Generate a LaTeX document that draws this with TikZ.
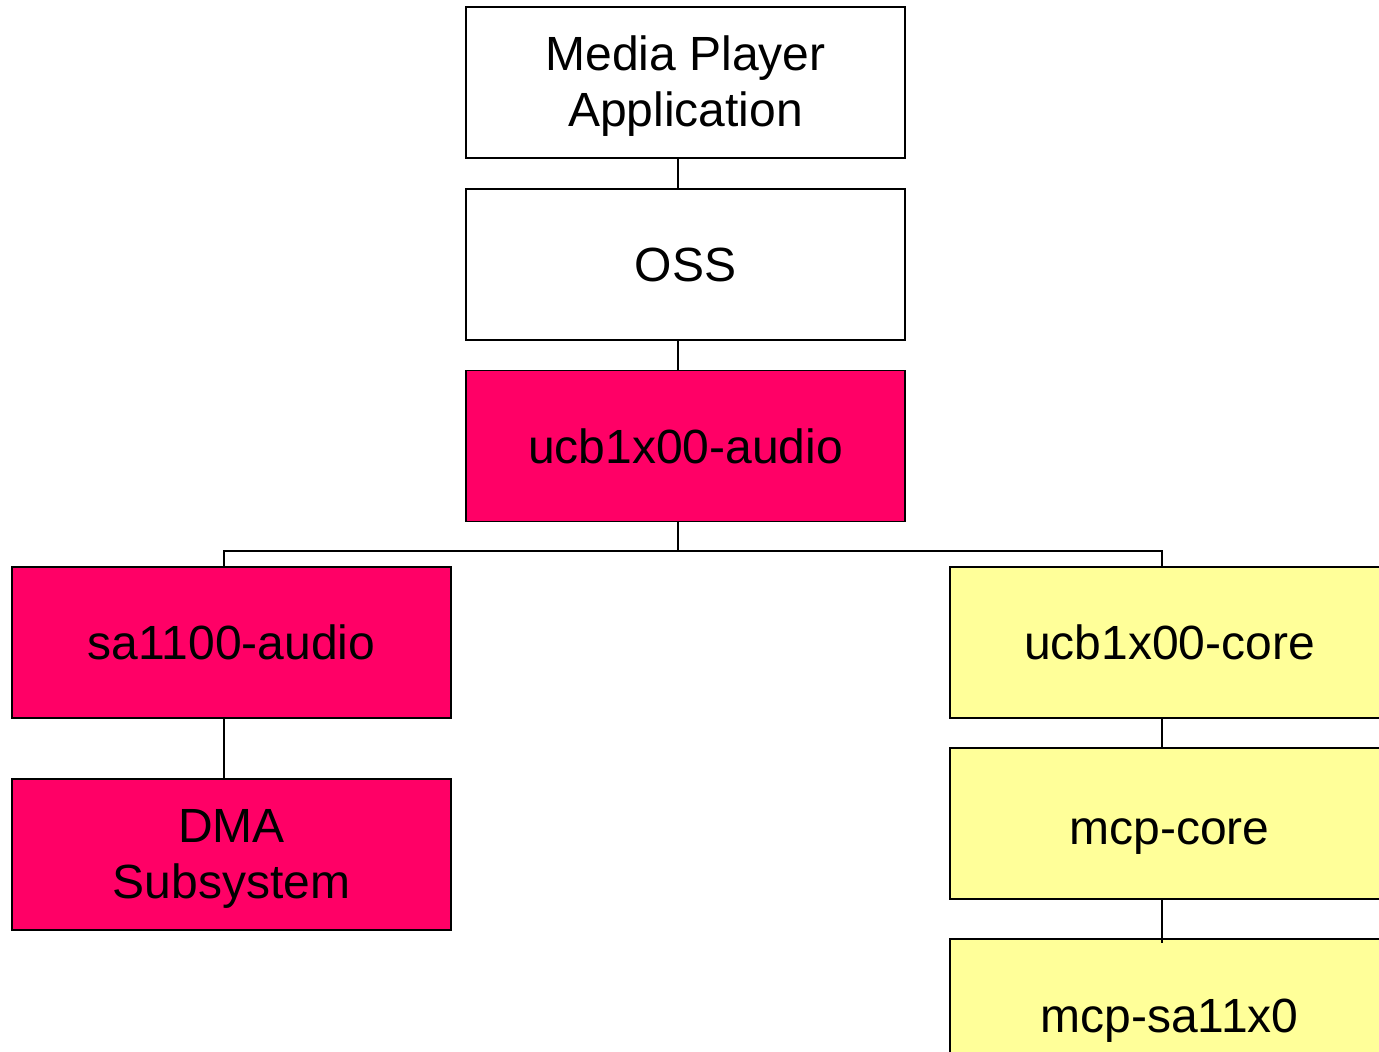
\documentclass[tikz,border=0pt]{standalone}
\usepackage{fontspec}
\setmainfont{Liberation Sans}
\definecolor{mag}{HTML}{FF0066}
\definecolor{yel}{HTML}{FFFF99}
\newcommand{\lowtext}[2]{\raisebox{-#1}[\height][\depth]{\begin{tabular}{@{}c@{}}#2\end{tabular}}}
\begin{document}
\begin{tikzpicture}[x=1pt,y=1pt,
  box/.style={draw=black,line width=1.8pt,rectangle,minimum width=439pt,minimum height=151pt,inner sep=0pt,align=center,font=\fontsize{48}{56}\selectfont},
  conn/.style={draw=black,line width=1.8pt}]
\clip (0,0) rectangle (1379,1052);
\fill[white] (0,0) rectangle (1379,1052);
\node[box,fill=white] (mp) at (685.5,969.5) {\lowtext{5pt}{Media Player\\Application}};
\node[box,fill=white] (oss) at (685.5,787.5) {OSS};
\node[box,fill=mag] (ucba) at (685.5,606) {ucb1x00-audio};
\node[box,fill=mag] (sa) at (231.5,409.5) {sa1100-audio};
\node[box,fill=mag] (dma) at (231.5,197.5) {\lowtext{5pt}{DMA\\Subsystem}};
\node[box,fill=yel] (ucbc) at (1169.5,409.5) {ucb1x00-core};
\node[box,fill=yel] (mcpc) at (1169.5,228.5) {\lowtext{10pt}{mcp-core}};
\node[box,fill=yel] (mcps) at (1169.5,37.5) {\lowtext{7pt}{mcp-sa11x0}};
\coordinate (bus) at (678,501);
\draw[conn] ([xshift=-7.5pt]mp.south) -- ([xshift=-7.5pt]oss.north);
\draw[conn] ([xshift=-7.5pt]oss.south) -- ([xshift=-7.5pt]ucba.north);
\draw[conn] ([xshift=-7.5pt]ucba.south) -- (bus);
\draw[conn] ([xshift=-7.5pt]sa.north) |- (bus) -| ([xshift=-7.5pt]ucbc.north);
\draw[conn] ([xshift=-7.5pt]sa.south) -- ([xshift=-7.5pt]dma.north);
\draw[conn] ([xshift=-7.5pt]ucbc.south) -- ([xshift=-7.5pt]mcpc.north);
\draw[conn] ([xshift=-7.5pt]mcpc.south) -- ([xshift=-7.5pt,yshift=-5pt]mcps.north);
\end{tikzpicture}
\end{document}
